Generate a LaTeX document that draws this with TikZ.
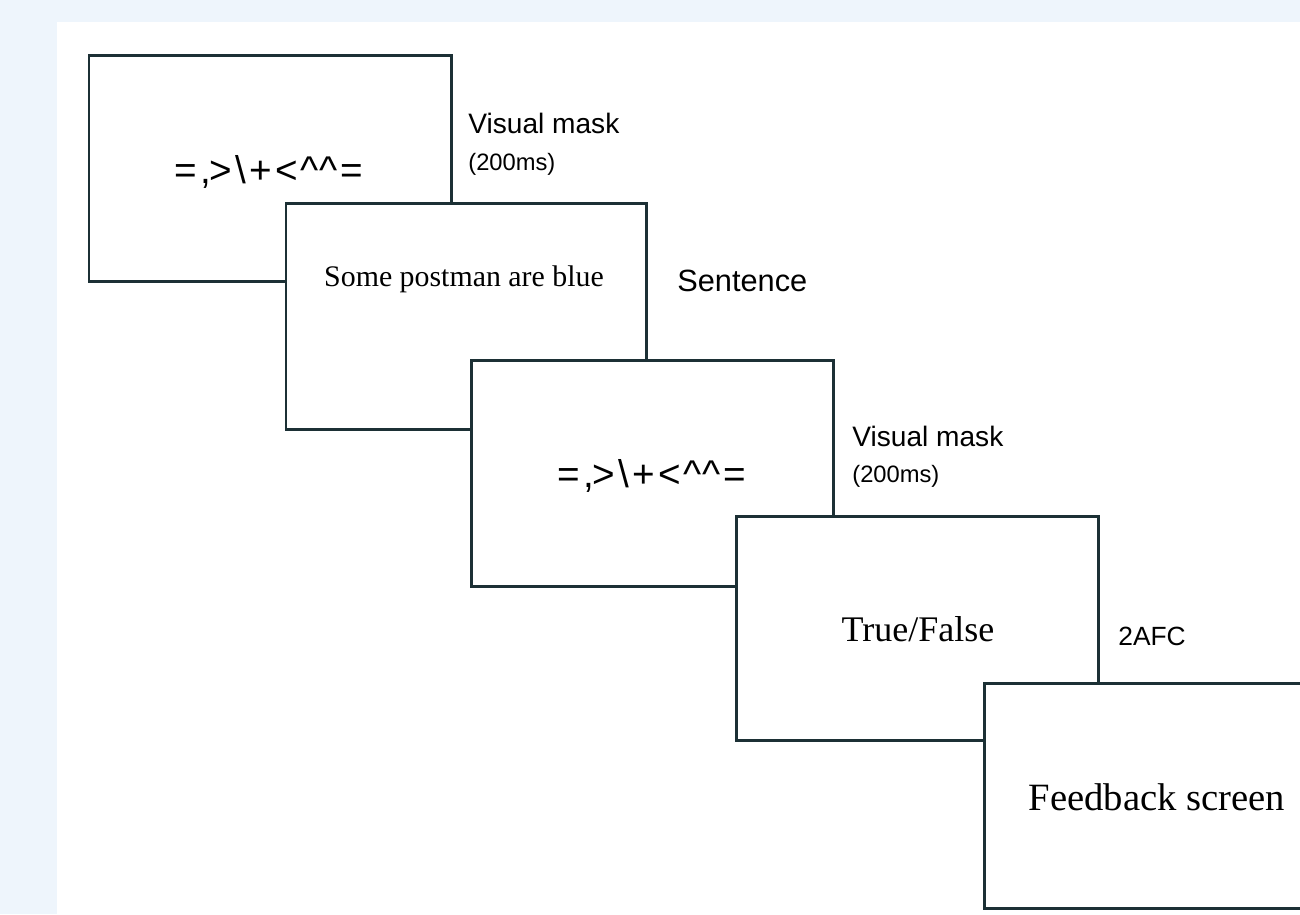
\documentclass[tikz,border=0pt]{standalone}
\usepackage{fontspec}
\setmainfont{Liberation Serif}
\newfontfamily\labfont{Liberation Sans}
\definecolor{bgblue}{HTML}{EEF5FC}
\definecolor{boxline}{HTML}{1C3035}
\newcommand{\mk}{\kern 0.065cm}
\newcommand{\maskstr}{{\labfont\fontsize{22}{24}\selectfont =\mk,\kern-0.04cm>\mk\textbackslash\mk+\mk<\mk\textasciicircum\textasciicircum\mk=}}
\begin{document}
\begin{tikzpicture}[x=0.02cm,y=-0.02cm,
  screen/.style={draw=boxline, line width=1.7pt, fill=white, rectangle, anchor=north west,
    inner sep=0pt, outer sep=0pt, minimum height=4.54cm},
  lab/.style={font=\labfont\fontsize{16}{19}\selectfont, anchor=base west, inner sep=0pt},
  sublab/.style={font=\labfont\fontsize{13.5}{16}\selectfont, anchor=base west, inner sep=0pt},
  txt/.style={anchor=base, inner sep=0pt}]
\useasboundingbox (0,0) rectangle (1300,914);
\fill[bgblue] (0,0) rectangle (1300,914);
\fill[white] (57,22) rectangle (1300,914);
\clip (0,0) rectangle (1300,914);
% screens
\node[screen, minimum width=7.26cm] (s1) at (89,55) {};
\node[screen, minimum width=7.22cm] (s2) at (286,203) {};
\node[screen, minimum width=7.26cm] (s3) at (471,360) {};
\node[screen, minimum width=7.26cm, minimum height=4.50cm] (s4) at (736,516) {};
\node[screen, minimum width=7.0cm, minimum height=4.52cm] (s5) at (984,683) {};
% screen contents
\node[txt] (t1) at (269,183) {\maskstr};
\node[txt, font=\fontsize{17}{20}\selectfont] (t2) at (464,286) {Some postman are blue};
\node[txt] (t3) at (652,487) {\maskstr};
\node[txt, font=\fontsize{20.5}{23}\selectfont] (t4) at (918,641) {True/False};
\node[txt, font=\fontsize{22}{25}\selectfont] (t5) at (1157,810) {Feedback screen};
% labels
\node[lab] (l1) at (468,133) {Visual mask};
\node[sublab] (l1b) at (468,170) {(200ms)};
\node[lab, font=\labfont\fontsize{17.5}{20}\selectfont] (l2) at (677,291) {Sentence};
\node[lab] (l3) at (852,446) {Visual mask};
\node[sublab] (l3b) at (852,482) {(200ms)};
\node[lab, font=\labfont\fontsize{15}{18}\selectfont] (l4) at (1118,645) {2AFC};
\end{tikzpicture}
\end{document}
